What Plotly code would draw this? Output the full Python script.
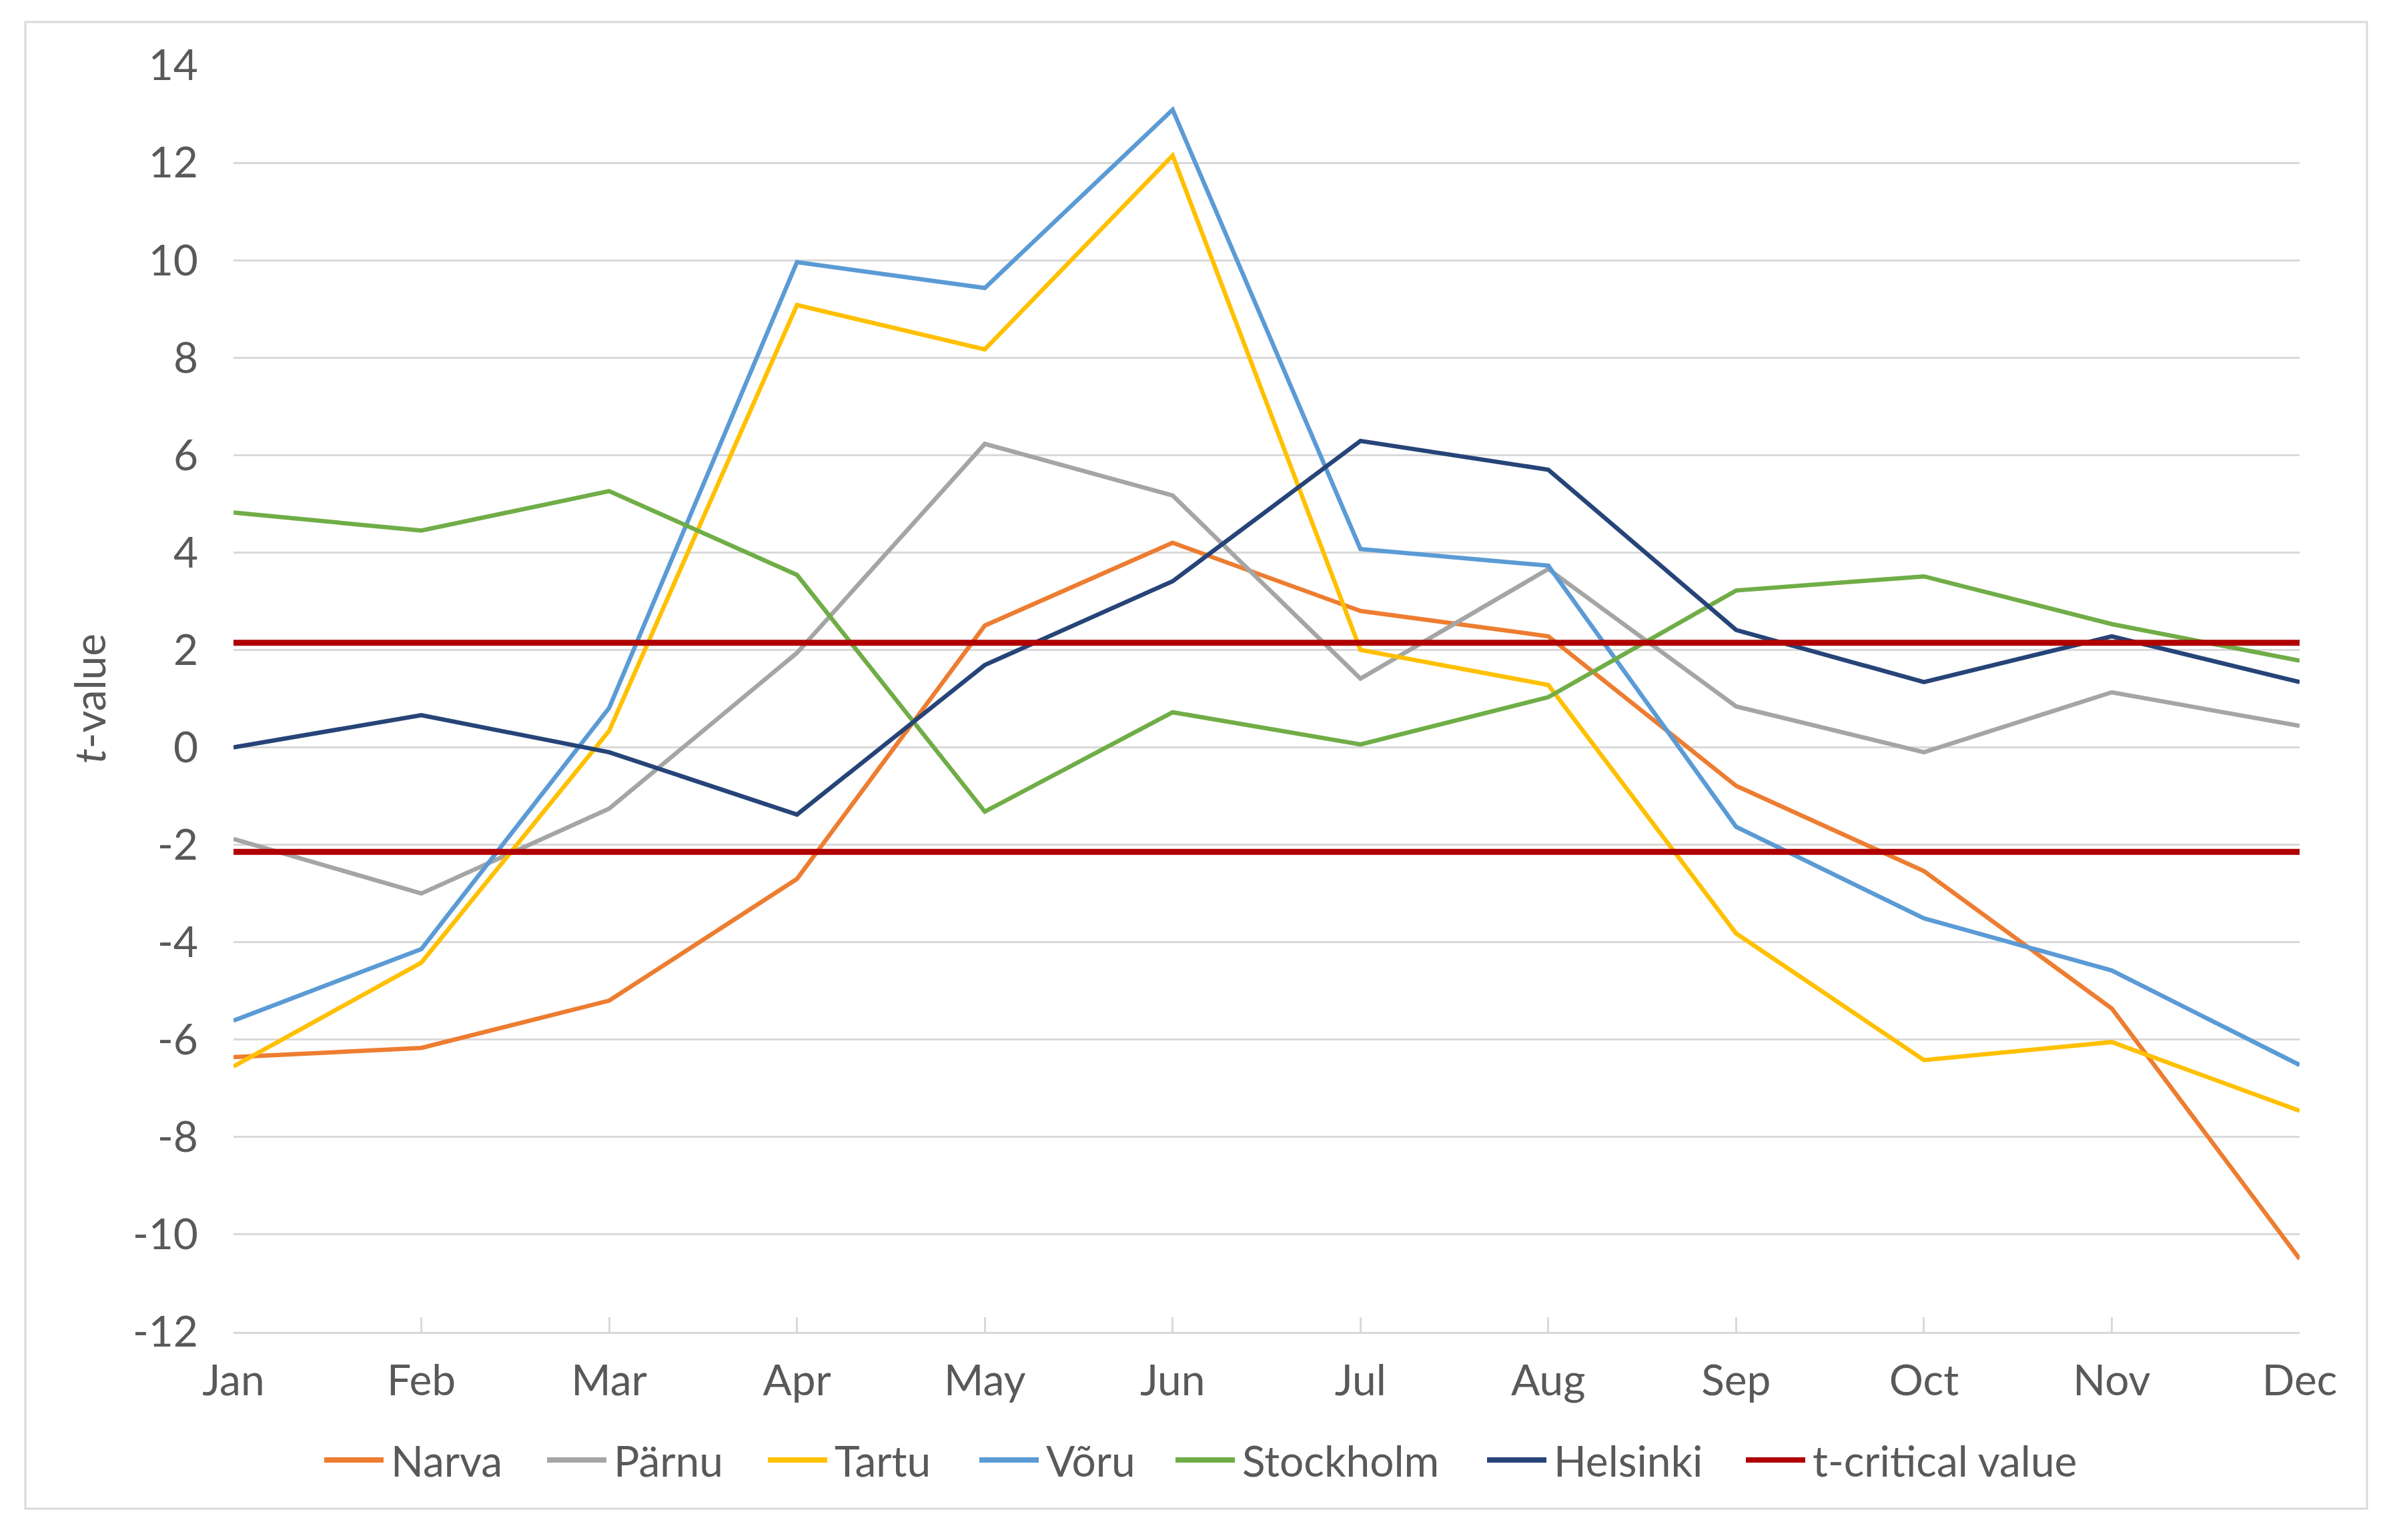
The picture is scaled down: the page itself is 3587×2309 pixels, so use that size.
import plotly.graph_objects as go

months = ["Jan", "Feb", "Mar", "Apr", "May", "Jun", "Jul", "Aug", "Sep", "Oct", "Nov", "Dec"]

narva = [-6.36, -6.17, -5.2, -2.7, 2.5, 4.2, 2.8, 2.28, -0.79, -2.54, -5.36, -10.5]
parnu = [-1.88, -3.0, -1.26, 1.94, 6.23, 5.17, 1.41, 3.66, 0.84, -0.1, 1.13, 0.44]
tartu = [-6.55, -4.42, 0.34, 9.08, 8.17, 12.15, 2.0, 1.28, -3.82, -6.42, -6.05, -7.46]
voru = [-5.61, -4.14, 0.81, 9.96, 9.43, 13.09, 4.07, 3.73, -1.63, -3.51, -4.58, -6.52]
stockholm = [4.82, 4.45, 5.26, 3.54, -1.32, 0.72, 0.06, 1.03, 3.22, 3.51, 2.53, 1.78]
helsinki = [0.0, 0.66, -0.1, -1.38, 1.69, 3.41, 6.29, 5.7, 2.41, 1.34, 2.28, 1.34]
t_critical = 2.145

y_ticks = [-12, -10, -8, -6, -4, -2, 0, 2, 4, 6, 8, 10, 12, 14]
y_tick_labels = [str(v) for v in y_ticks]  # plain hyphen minus like the original

series = [
    ("Narva", narva, "#ED7D31"),
    ("Pärnu", parnu, "#A5A5A5"),
    ("Tartu", tartu, "#FFC000"),
    ("Võru", voru, "#5B9BD5"),
    ("Stockholm", stockholm, "#70AD47"),
    ("Helsinki", helsinki, "#264478"),
]
TCRIT_NAME = "t-critical value"
TCRIT_COLOR = "#B00000"

# page is offset by the 8px body margin of the browser
OFF = 8
W, H = 3587 - 2 * OFF, 2309 - 2 * OFF
PLOT_L, PLOT_R, PLOT_T, PLOT_B = 350, 3447, 98, 1997  # page pixels
ML, MT = PLOT_L - OFF, PLOT_T - OFF
MR, MB = W - (PLOT_R - OFF), H - (PLOT_B - OFF)
FONT = "Lato, 'Open Sans', sans-serif"
FS = 64
TXT = "#595959"
GRID = "#D9D9D9"

pw = W - ML - MR
ph = H - MT - MB


def px_x(p):
    return (p - OFF - ML) / pw


def px_y(p):
    return (H - (p - OFF) - MB) / ph


fig = go.Figure()
for name, vals, col in series:
    fig.add_trace(go.Scatter(x=months, y=vals, mode="lines", name=name,
                             showlegend=False, line=dict(color=col, width=6.5)))

for sign in (1, -1):
    fig.add_trace(go.Scatter(x=months, y=[sign * t_critical] * len(months), mode="lines",
                             name=TCRIT_NAME, showlegend=False,
                             line=dict(color=TCRIT_COLOR, width=9)))

# outer chart border
fig.add_shape(type="rect", xref="paper", yref="paper",
              x0=px_x(38), x1=px_x(3548), y0=px_y(2262), y1=px_y(33),
              line=dict(color=GRID, width=3), layer="below")

# legend (Excel style: long line key followed by the name)
legend_items = [(n, c) for n, _, c in series] + [(TCRIT_NAME, TCRIT_COLOR)]
legend_starts = [486, 820, 1151, 1468, 1762, 2229, 2617]
KEY_LEN, KEY_GAP, LEG_Y = 89, 9, 2189
for (name, col), xs in zip(legend_items, legend_starts):
    fig.add_shape(type="line", xref="paper", yref="paper",
                  x0=px_x(xs), x1=px_x(xs + KEY_LEN), y0=px_y(LEG_Y), y1=px_y(LEG_Y),
                  line=dict(color=col, width=8))
    fig.add_annotation(xref="paper", yref="paper", x=px_x(xs + KEY_LEN + KEY_GAP),
                       y=px_y(LEG_Y), text=name, showarrow=False,
                       xanchor="left", yanchor="middle",
                       font=dict(family=FONT, size=FS, color=TXT))

fig.update_layout(
    width=W, height=H,
    margin=dict(l=ML, r=MR, t=MT, b=MB),
    paper_bgcolor="white", plot_bgcolor="white",
    font=dict(family=FONT, size=FS, color=TXT),
    showlegend=False,
    xaxis=dict(type="category", range=[0, 11], showgrid=False,
               showline=True, linecolor=GRID, linewidth=3,
               ticks="inside", ticklen=22, tickcolor=GRID, tickwidth=3,
               tickfont=dict(family=FONT, size=FS, color=TXT),
               ticklabelstandoff=15, zeroline=False),
    yaxis=dict(range=[-12, 14], tickvals=y_ticks, ticktext=y_tick_labels,
               showgrid=True, gridcolor=GRID, gridwidth=3, zeroline=False,
               showline=False, ticks="",
               tickfont=dict(family=FONT, size=FS, color=TXT),
               ticklabelstandoff=52,
               title=dict(text="<i>t</i>-value", standoff=19,
                          font=dict(family=FONT, size=FS, color=TXT))),
)

fig.write_html("out.html")
